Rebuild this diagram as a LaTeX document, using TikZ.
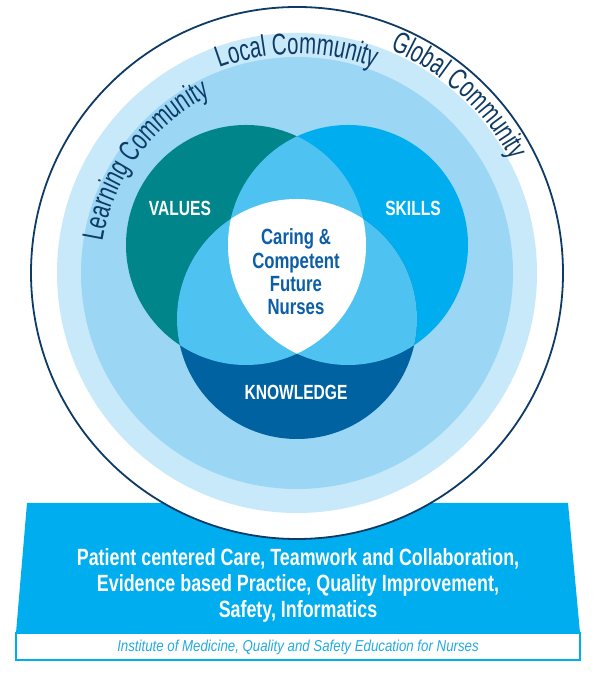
\documentclass[tikz,border=0pt]{standalone}
\usepackage{fontspec}
\setmainfont{Liberation Sans}
\newfontfamily\narrowfont{Liberation Sans}[FakeStretch=0.76]
\newfontfamily\iomfont{Liberation Sans}[FakeStretch=0.84]
\newfontfamily\commfont{Liberation Sans}[FakeStretch=0.68]
\usetikzlibrary{decorations.text}
\definecolor{navy}{HTML}{0E3A66}
\definecolor{valuescol}{HTML}{00858A}
\definecolor{skillscol}{HTML}{00AEEF}
\definecolor{knowcol}{HTML}{0062A1}
\definecolor{overlapcol}{HTML}{4EC3F1}
\definecolor{ringlight}{HTML}{C8E9FA}
\definecolor{ringmid}{HTML}{9BD6F5}
\definecolor{coreblue}{HTML}{0C5EA6}
\definecolor{iomblue}{HTML}{25AAE2}
\tikzset{
  setname/.style={text=white, font=\narrowfont\bfseries\fontsize{20.5}{22}\selectfont},
  core/.style={text=coreblue, align=center, font=\narrowfont\bfseries\fontsize{22}{23.3}\selectfont},
  basetext/.style={text=white, align=center, font=\narrowfont\bfseries\fontsize{23.5}{25.8}\selectfont},
  community/.style={decorate, decoration={text along path, text align=center, text color=navy,
      text={|\commfont\fontsize{30}{32}\selectfont|#1}}}
}

\begin{document}
\begin{tikzpicture}[x=1pt,y=1pt]
  \useasboundingbox (0,0) rectangle (600,679);
  \coordinate (ctr) at (297,406);
  \coordinate (values) at (246,434);
  \coordinate (skills) at (348,434);
  \coordinate (knowledge) at (297,360);

  % base
  \fill[skillscol] (27,176) -- (568,176) -- (580,46) -- (16,46) -- cycle;
  \draw[skillscol, line width=1.5, fill=white] (16,46) rectangle (580,19);

  % community rings
  \draw[navy, line width=1.8, fill=white] (ctr) circle[radius=266];
  \fill[ringlight] (ctr) circle[radius=240];
  \fill[ringmid] (ctr) circle[radius=216];

  % venn
  \fill[valuescol] (values) circle[radius=120];
  \fill[skillscol] (skills) circle[radius=120];
  \fill[knowcol] (knowledge) circle[radius=120];
  \begin{scope}
    \clip (values) circle[radius=120];
    \fill[overlapcol] (skills) circle[radius=120];
    \fill[overlapcol] (knowledge) circle[radius=120];
  \end{scope}
  \begin{scope}
    \clip (skills) circle[radius=120];
    \fill[overlapcol] (knowledge) circle[radius=120];
  \end{scope}
  \begin{scope}
    \clip (values) circle[radius=120];
    \clip (skills) circle[radius=120];
    \fill[white] (knowledge) circle[radius=120];
  \end{scope}

  \node[setname] (valuesname) at (180,471) {VALUES};
  \node[setname] (skillsname) at (413,471) {SKILLS};
  \node[setname] (knowname) at (296,287) {KNOWLEDGE};
  \node[core] (nurses) at (296,407) {Caring \&\\Competent\\Future\\Nurses};

  \path[community=Learning Community, shift={(ctr)}] (175:197) arc[start angle=175, end angle=112, radius=197];
  \path[community=Local Community, shift={(ctr)}] (130:219) arc[start angle=130, end angle=50, radius=219];
  \path[community=Global Community, shift={(ctr)}] (82:242) arc[start angle=82, end angle=13, radius=242];

  \node[basetext] (qsen) at (298,93.5) {Patient centered Care, Teamwork and Collaboration,\\Evidence based Practice, Quality Improvement,\\Safety, Informatics};
  \node[text=iomblue, font=\iomfont\itshape\fontsize{15.8}{18}\selectfont] (iom) at (298,32) {Institute of Medicine, Quality and Safety Education for Nurses};
\end{tikzpicture}
\end{document}
